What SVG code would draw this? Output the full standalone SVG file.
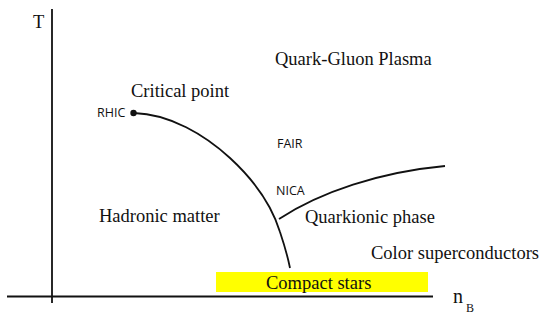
<svg xmlns="http://www.w3.org/2000/svg" width="550" height="318" viewBox="0 0 550 318">
<style>
.serif{font-family:"Liberation Serif","Times New Roman",serif;font-size:18.5px;fill:#111}
.sans{font-family:"Open Sans","Noto Sans",sans-serif;font-size:12.5px;fill:#111}
.ln{fill:none;stroke:#111;stroke-width:1.8}
</style>
<rect width="550" height="318" fill="#fff"/>
<g id="axes">
<line class="ln" x1="52" y1="9" x2="52" y2="303"/>
<line class="ln" x1="7" y1="296.5" x2="433" y2="296.5"/>
<text class="serif" x="33" y="28">T</text>
<text class="serif" x="453" y="303" style="font-size:20px">n</text>
<text class="serif" x="466" y="311.5" style="font-size:12px">B</text>
</g>
<g id="compact-stars">
<rect x="216" y="272" width="212" height="20" fill="#ffff00"/>
<text class="serif" x="266" y="289">Compact stars</text>
</g>
<g id="connectors">
<path class="ln" d="M134,113 C170,114 205,135 230,158 C255,181 272,206 280,232 C285,247 288,258 290,268"/>
<path class="ln" d="M279,219 C320,192 380,172 445,166"/>
</g>
<g id="critical-point">
<circle cx="133.5" cy="113" r="3.2" fill="#111"/>
<text class="serif" x="131" y="97">Critical point</text>
<text class="sans" x="97" y="117">RHIC</text>
</g>
<g id="qgp"><text class="serif" x="275" y="65">Quark-Gluon Plasma</text></g>
<g id="fair"><text class="sans" x="277" y="148">FAIR</text></g>
<g id="nica"><text class="sans" x="276" y="195">NICA</text></g>
<g id="hadronic"><text class="serif" x="99" y="222">Hadronic matter</text></g>
<g id="quarkionic"><text class="serif" x="305" y="223">Quarkionic phase</text></g>
<g id="csc"><text class="serif" x="371" y="259">Color superconductors</text></g>
</svg>
